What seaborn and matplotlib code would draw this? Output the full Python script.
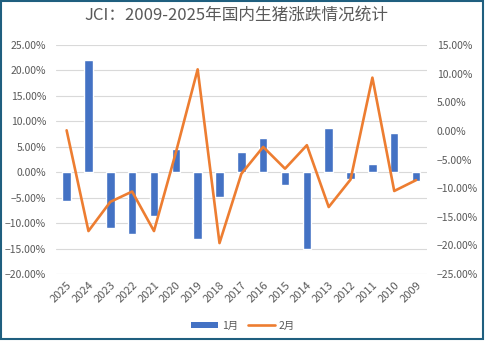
import numpy as np
import pandas as pd
import matplotlib
matplotlib.use("Agg")
import matplotlib.pyplot as plt
from matplotlib.patches import Patch, Rectangle
from matplotlib.lines import Line2D
from matplotlib.ticker import PercentFormatter
import seaborn as sns

years = ["2025", "2024", "2023", "2022", "2021", "2020", "2019", "2018", "2017",
         "2016", "2015", "2014", "2013", "2012", "2011", "2010", "2009"]
jan = [-5.6, 22.1, -11.0, -12.15, -8.6, 4.6, -13.2, -4.8, 4.06,
       6.7, -2.5, -15.1, 8.66, -1.3, 1.63, 7.8, -1.7]
feb = [0.1, -17.5, -12.4, -10.6, -17.5, -3.8, 10.75, -19.6, -7.5,
       -2.8, -6.6, -2.5, -13.3, -8.5, 9.3, -10.5, -8.6]
series_names = ["1月", "2月"]
title = "JCI：2009-2025年国内生猪涨跌情况统计"

sns.set_theme(style="white")
plt.rcParams['font.family'] = ['Noto Sans CJK SC', 'DejaVu Sans']

blue = "#4472C4"
orange = "#ED7D31"
grid_c = "#D9D9D9"
txt_c = "#595959"

df = pd.DataFrame({"year": years, "jan": jan, "feb": feb})
df["pos"] = np.arange(len(years))

fig = plt.figure(figsize=(4.86, 3.41), dpi=100)
ax = fig.add_axes([0.1146, 0.1965, 0.8786 - 0.1146, 0.868 - 0.1965])

sns.barplot(data=df, x="year", y="jan", color=blue, width=0.39,
            saturation=1, ax=ax, order=years)
ax.set_xlim(-0.5, len(years) - 0.5)
ax.set_ylim(-20, 25)
ax.set_yticks(np.arange(-20, 26, 5))
ax.yaxis.set_major_formatter(PercentFormatter(decimals=2))
ax.yaxis.grid(True, color=grid_c, lw=0.8)
ax.set_axisbelow(True)
for s in ax.spines.values():
    s.set_visible(False)
ax.set_xlabel("")
ax.set_ylabel("")
ax.tick_params(axis="y", length=0, pad=7, labelsize=7.5, colors=txt_c)
ax.tick_params(axis="x", length=0, pad=4, labelsize=8, colors=txt_c)
for lab in ax.get_xticklabels():
    lab.set_rotation(45)
    lab.set_ha("right")
    lab.set_rotation_mode("anchor")

ax2 = ax.twinx()
sns.lineplot(data=df, x="pos", y="feb", color=orange, lw=1.9, ax=ax2)
ax2.set_ylim(-25, 15)
ax2.set_yticks(np.arange(-25, 16, 5))
ax2.yaxis.set_major_formatter(PercentFormatter(decimals=2))
for s in ax2.spines.values():
    s.set_visible(False)
ax2.set_xlabel("")
ax2.set_ylabel("")
ax2.tick_params(axis="y", length=0, pad=7, labelsize=7.5, colors=txt_c)
ax2.grid(False)
ax.set_xlim(-0.5, len(years) - 0.5)

fig.text(0.487, 0.956, title, ha="center", va="center", fontsize=12, color=txt_c)

handles = [Patch(facecolor=blue, edgecolor="none"),
           Line2D([0], [0], color=orange, lw=1.9)]
fig.legend(handles, series_names, loc="center", bbox_to_anchor=(0.5, 0.045),
           ncol=2, frameon=False, fontsize=7.5, handlelength=2.6,
           handleheight=0.5, columnspacing=1.0, handletextpad=0.3,
           labelcolor=txt_c)

fig.patches.append(Rectangle((1 / 486, 2.5 / 341), 482 / 486, 337.5 / 341,
                             transform=fig.transFigure, fill=False,
                             edgecolor="#1F5F7F", lw=1.5))

fig.savefig("out.png", dpi=100, facecolor="white")
